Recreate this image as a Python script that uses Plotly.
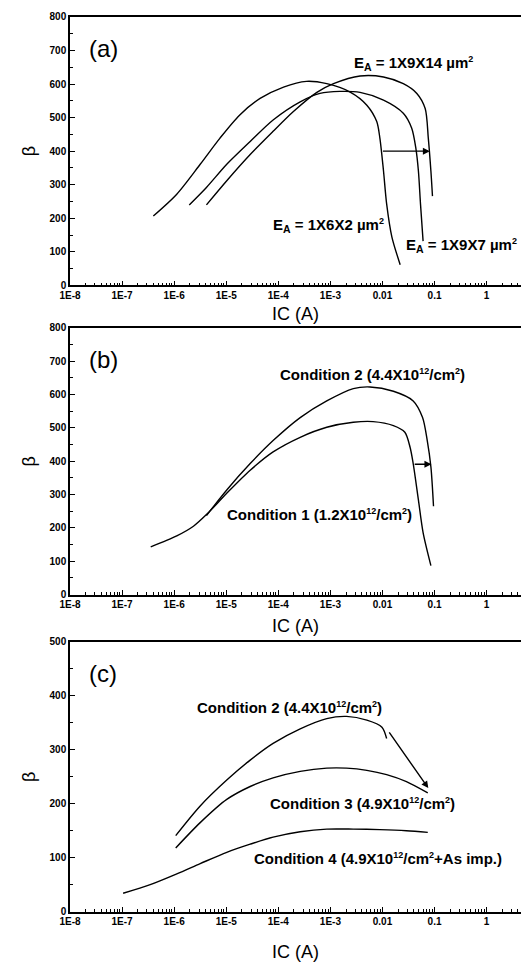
import math
import plotly.graph_objects as go

# ---------------- data ----------------
# panel (a)
a1_logx = [-6.4, -5.95, -5.5, -5.12, -4.74, -4.35, -3.9, -3.46, -3.07, -2.62, -2.3, -2.11, -2.05, -1.98, -1.92, -1.82, -1.66]
a1_beta = [207, 272, 361, 439, 508, 557, 591, 608, 601, 576, 537, 488, 439, 341, 243, 145, 62]
a2_logx = [-5.71, -5.38, -4.99, -4.54, -4.1, -3.58, -3.2, -2.82, -2.43, -1.98, -1.6, -1.44, -1.36, -1.31, -1.27, -1.22]
a2_beta = [240, 292, 361, 429, 493, 547, 572, 578, 575, 552, 513, 469, 410, 341, 243, 132]
a3_logx = [-5.38, -4.99, -4.54, -4.1, -3.71, -3.26, -2.94, -2.43, -1.98, -1.6, -1.34, -1.18, -1.12, -1.07, -1.04]
a3_beta = [240, 312, 390, 459, 518, 575, 601, 624, 621, 601, 572, 527, 439, 341, 266]
# panel (b)
b1_logx = [-6.45, -5.95, -5.63, -5.38, -4.99, -4.54, -4.1, -3.58, -3.07, -2.56, -2.18, -1.79, -1.57, -1.47, -1.41, -1.31, -1.22, -1.07]
b1_beta = [143, 176, 205, 240, 304, 373, 428, 472, 502, 517, 519, 507, 487, 442, 393, 284, 186, 87]
b2_logx = [-5.38, -4.99, -4.54, -4.1, -3.58, -3.07, -2.56, -2.24, -1.79, -1.41, -1.23, -1.14, -1.07, -1.02]
b2_beta = [237, 314, 393, 462, 531, 581, 618, 623, 610, 581, 531, 462, 383, 265]
# panel (c)
c2_logx = [-5.97, -5.5, -4.99, -4.54, -4.1, -3.58, -3.07, -2.69, -2.3, -2.01, -1.92]
c2_beta = [141, 196, 244, 281, 312, 339, 358, 362, 355, 342, 321]
c3_logx = [-5.97, -5.5, -4.99, -4.54, -4.1, -3.58, -3.07, -2.69, -2.3, -1.92, -1.54, -1.13]
c3_beta = [118, 165, 208, 232, 248, 260, 266, 266, 262, 254, 241, 220]
c4_logx = [-6.98, -6.46, -5.95, -5.5, -4.99, -4.54, -4.1, -3.58, -3.07, -2.56, -2.05, -1.54, -1.13]
c4_beta = [34, 50, 70, 89, 110, 125, 138, 148, 153, 153, 152, 150, 147]

# arrows: (x_from, y_from, x_to, y_to) in A / beta
arrow_a = (10 ** -2.02, 400, 10 ** -1.09, 400)
arrow_b = (10 ** -1.41, 391, 10 ** -1.06, 391)
arrow_c = (10 ** -1.89, 335, 10 ** -1.12, 229)

xtick_vals = [1e-8, 1e-7, 1e-6, 1e-5, 1e-4, 1e-3, 1e-2, 1e-1, 1]
xtick_text = ["1E-8", "1E-7", "1E-6", "1E-5", "1E-4", "1E-3", "0.01", "0.1", "1"]
panel_labels = ["(a)", "(b)", "(c)"]
y_max = [800, 800, 500]

# curve labels: (text, panel, log10 IC, beta)
SUP12 = "<sup><span style='font-size:9px'>12</span></sup>"
SUP2 = "<sup><span style='font-size:9px'>2</span></sup>"
curve_labels = [
    ("E<sub>A</sub> = 1X9X14 µm" + SUP2, "", -1.41, 662),
    ("E<sub>A</sub> = 1X6X2 µm" + SUP2, "", -3.04, 179),
    ("E<sub>A</sub> = 1X9X7 µm" + SUP2, "", -0.49, 118),
    ("Condition 2 (4.4X10" + SUP12 + "/cm" + SUP2 + ")", "2", -2.2, 661),
    ("Condition 1 (1.2X10" + SUP12 + "/cm" + SUP2 + ")", "2", -3.2, 240),
    ("Condition 2 (4.4X10" + SUP12 + "/cm" + SUP2 + ")", "3", -3.78, 379),
    ("Condition 3 (4.9X10" + SUP12 + "/cm" + SUP2 + ")", "3", -2.39, 200),
    ("Condition 4 (4.9X10" + SUP12 + "/cm" + SUP2 + "+As imp.)", "3", -2.09, 99),
]

# ---------------- figure ----------------
W, H = 521, 965
FONT = "Arial, Liberation Sans"
fig = go.Figure()

def tr(logx, beta, axis):
    return go.Scatter(x=[10 ** v for v in logx], y=beta, mode="lines",
                      line=dict(color="black", width=1.4, shape="spline", smoothing=0.8),
                      showlegend=False, xaxis="x" + axis, yaxis="y" + axis)

fig.add_trace(tr(a1_logx, a1_beta, ""))
fig.add_trace(tr(a2_logx, a2_beta, ""))
fig.add_trace(tr(a3_logx, a3_beta, ""))
fig.add_trace(tr(b1_logx, b1_beta, "2"))
fig.add_trace(tr(b2_logx, b2_beta, "2"))
fig.add_trace(tr(c2_logx, c2_beta, "3"))
fig.add_trace(tr(c3_logx, c3_beta, "3"))
fig.add_trace(tr(c4_logx, c4_beta, "3"))

# pixel positions of plot areas (top, bottom)
boxes = [(11, 283), (326, 596), (644, 917)]
x_standoff = [7, 10, 19]
minor_vals = [m * 10 ** d for d in range(-8, 1) for m in range(2, 10)]
tickfont = dict(family=FONT, size=10, color="black", weight="bold")

layout = dict(width=W, height=H, margin=dict(l=70, r=0, t=0, b=0),
              paper_bgcolor="white", plot_bgcolor="white",
              font=dict(family=FONT, color="black"))
for i, (top, bot) in enumerate(boxes):
    sfx = "" if i == 0 else str(i + 1)
    dom = [1 - bot / H, 1 - top / H]
    layout["xaxis" + sfx] = dict(
        type="log", range=[-8, 0.66], domain=[0, 1], anchor="y" + sfx,
        tickmode="array", tickvals=xtick_vals, ticktext=xtick_text,
        ticks="inside", ticklen=5, tickwidth=1.2, tickcolor="black",
        minor=dict(tickmode="array", tickvals=minor_vals, ticks="inside", ticklen=3,
                   tickwidth=1, tickcolor="black", showgrid=False),
        showline=True, linecolor="black", linewidth=1.5, mirror=True,
        showgrid=False, zeroline=False, tickfont=tickfont,
        title=dict(text="IC (A)", font=dict(size=18, family=FONT), standoff=x_standoff[i]),
    )
    layout["yaxis" + sfx] = dict(
        range=[0, y_max[i]], domain=dom, anchor="x" + sfx,
        tickmode="linear", tick0=0, dtick=100,
        ticks="inside", ticklen=5, tickwidth=1.2, tickcolor="black",
        minor=dict(dtick=50, ticks="inside", ticklen=3, tickwidth=1, tickcolor="black", showgrid=False),
        showline=True, linecolor="black", linewidth=1.5, mirror=False,
        showgrid=False, zeroline=False, tickfont=tickfont,
        title=dict(text="β", font=dict(size=18, family=FONT), standoff=9),
    )
fig.update_layout(**layout)

annots = []
lab_font = dict(family=FONT, size=15, color="black", weight="bold")

# panel labels
for i, (top, bot) in enumerate(boxes):
    annots.append(dict(text=panel_labels[i], xref="paper", yref="paper",
                       x=(103 - 70) / (W - 70), y=1 - (top + 32) / H, showarrow=False,
                       font=dict(family=FONT, size=24, color="black"),
                       xanchor="center", yanchor="middle"))

for text, ax, lx, yv in curve_labels:
    annots.append(dict(text=text, xref="x" + ax, yref="y" + ax, x=lx, y=yv, showarrow=False,
                       font=lab_font, xanchor="center", yanchor="middle"))

for (x0, y0, x1, y1), ax in [(arrow_a, ""), (arrow_b, "2"), (arrow_c, "3")]:
    annots.append(dict(x=math.log10(x1), y=y1, ax=math.log10(x0), ay=y0,
                       xref="x" + ax, yref="y" + ax, axref="x" + ax, ayref="y" + ax,
                       showarrow=True, arrowhead=2, arrowsize=1, arrowwidth=1.4,
                       arrowcolor="black", text=""))
fig.update_layout(annotations=annots)

fig.write_html("out.html")
